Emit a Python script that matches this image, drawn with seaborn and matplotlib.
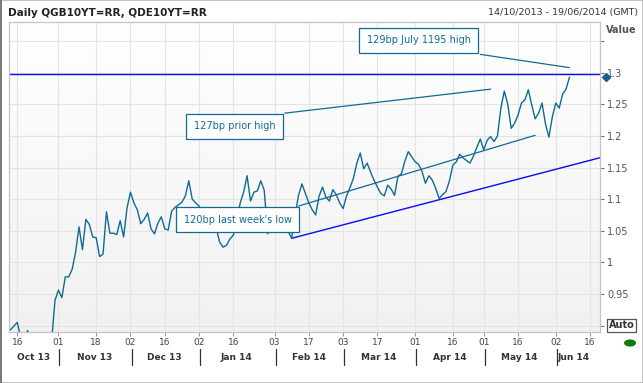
import numpy as np
import pandas as pd
import matplotlib
matplotlib.use("Agg")
import matplotlib.pyplot as plt
import matplotlib.transforms as mtransforms
from matplotlib.colors import LinearSegmentedColormap
from matplotlib.patches import Rectangle, Circle
from matplotlib.lines import Line2D
import seaborn as sns

# ---------------- data ----------------
holidays = ['2013-12-25', '2013-12-26', '2014-01-01', '2014-04-18', '2014-04-21', '2014-05-05']
yield_spread = [
    0.893, 0.899, 0.905, 0.880, 0.875, 0.892, 0.870, 0.865, 0.860, 0.865,
    0.860, 0.868, 0.875, 0.940, 0.956, 0.944, 0.977, 0.977, 0.989, 1.016,
    1.056, 1.020, 1.068, 1.060, 1.040, 1.039, 1.009, 1.013, 1.080, 1.046,
    1.046, 1.044, 1.066, 1.040, 1.086, 1.111, 1.094, 1.083, 1.061, 1.068,
    1.078, 1.053, 1.045, 1.062, 1.072, 1.053, 1.051, 1.081, 1.087, 1.091,
    1.095, 1.105, 1.129, 1.100, 1.094, 1.089, 1.080, 1.073, 1.067, 1.061,
    1.054, 1.032, 1.024, 1.027, 1.037, 1.043, 1.067, 1.094, 1.111, 1.137,
    1.097, 1.111, 1.113, 1.129, 1.114, 1.045, 1.059, 1.067, 1.064, 1.057,
    1.054, 1.049, 1.038, 1.075, 1.106, 1.124, 1.109, 1.094, 1.083, 1.075,
    1.105, 1.119, 1.103, 1.097, 1.115, 1.107, 1.094, 1.085, 1.105, 1.118,
    1.133, 1.157, 1.173, 1.148, 1.157, 1.143, 1.130, 1.119, 1.109, 1.105,
    1.122, 1.116, 1.106, 1.136, 1.140, 1.160, 1.175, 1.167, 1.159, 1.155,
    1.144, 1.125, 1.137, 1.130, 1.117, 1.101, 1.107, 1.112, 1.129, 1.154,
    1.159, 1.171, 1.165, 1.161, 1.157, 1.168, 1.182, 1.195, 1.178, 1.193,
    1.199, 1.191, 1.200, 1.244, 1.271, 1.250, 1.212, 1.220, 1.233, 1.252,
    1.257, 1.273, 1.249, 1.227, 1.236, 1.252, 1.219, 1.198, 1.230, 1.252,
    1.244, 1.266, 1.274, 1.293,
]
tick_dates = ['2013-10-16', '2013-11-01', '2013-11-18', '2013-12-02', '2013-12-16',
              '2014-01-02', '2014-01-16', '2014-02-03', '2014-02-17', '2014-03-03',
              '2014-03-17', '2014-04-01', '2014-04-16', '2014-05-01', '2014-05-16',
              '2014-06-02', '2014-06-16']
month_starts = ['2013-11-01', '2013-12-02', '2014-01-02', '2014-02-03', '2014-03-03',
                '2014-04-01', '2014-05-01', '2014-06-02']
month_labels = ['Oct 13', 'Nov 13', 'Dec 13', 'Jan 14', 'Feb 14', 'Mar 14', 'Apr 14', 'May 14', 'Jun 14']
y_ticks = [0.9, 0.95, 1.0, 1.05, 1.1, 1.15, 1.2, 1.25, 1.3, 1.35]
y_labels = ['', '0.95', '1', '1.05', '1.1', '1.15', '1.2', '1.25', '1.3', '']

resistance_level = 1.298
support_dates = ['2014-02-10', '2014-06-19']
support_values = [1.038, 1.1656]
note_high_dates = ['2014-04-30', '2014-06-06']
note_high_values = [1.329, 1.308]
note_prior_dates = ['2014-02-06', '2014-05-06']
note_prior_values = [1.236, 1.274]
note_low_dates = ['2014-02-12', '2014-05-23']
note_low_values = [1.089, 1.201]

# ---------------- helpers ----------------
days = pd.bdate_range('2013-10-14', '2014-06-19')
days = days[~days.isin(pd.to_datetime(holidays))]


def pos(d):
    return days.get_loc(pd.Timestamp(d))


df = pd.DataFrame({'pos': np.arange(len(yield_spread)), 'value': yield_spread})

TEAL = '#0f6b94'
BLUE = '#0a0af0'
XMIN, XMAX = -0.33, 171.9
YMIN, YMAX = 0.8902, 1.3807

sns.set_style('white')
plt.rcParams['font.family'] = ['DejaVu Sans']

fig = plt.figure(figsize=(6.43, 3.83), dpi=100, facecolor='white')
ax = fig.add_axes([9.3 / 643, 1 - 331.7 / 383, (600 - 9.3) / 643, (331.7 - 21.7) / 383])

# gradient background
grad = LinearSegmentedColormap.from_list('g', ['#ffffff', '#f1f1f1'])
ax.imshow(np.linspace(0, 1, 256).reshape(-1, 1), extent=[XMIN, XMAX, YMIN, YMAX],
          aspect='auto', cmap=grad, origin='upper', zorder=0)

sns.lineplot(data=df, x='pos', y='value', ax=ax, color=TEAL, linewidth=1.0, zorder=3)

# horizontal resistance and support trend line
ax.axhline(resistance_level, color=BLUE, lw=1.0, zorder=2.5)
ax.plot([pos(d) for d in support_dates], support_values, color=BLUE, lw=1.0, zorder=2.5)

# annotation connectors
for dts, vals in [(note_high_dates, note_high_values),
                  (note_prior_dates, note_prior_values),
                  (note_low_dates, note_low_values)]:
    ax.plot([pos(d) for d in dts], vals, color=TEAL, lw=0.9, zorder=2.6)

box_kw = dict(boxstyle='square,pad=0.78', fc='white', ec=TEAL, lw=0.9)
ax.text(119.0, 1.351, '129bp July 1195 high', ha='center', va='center', fontsize=7,
        color=TEAL, bbox=box_kw, zorder=6)
ax.text(65.3, 1.2149, '127bp prior high', ha='center', va='center', fontsize=7,
        color=TEAL, bbox=box_kw, zorder=6)
ax.text(66.3, 1.0677, "120bp last week's low", ha='center', va='center', fontsize=7,
        color=TEAL, bbox=box_kw, zorder=6)

# last-value diamond on the axis
bt = mtransforms.blended_transform_factory(ax.transAxes, ax.transData)
ax.plot([1.0102], [yield_spread[-1]], transform=bt, marker='D', ms=4.2,
        color='#1b5f8c', clip_on=False, zorder=7)

ax.set_xlim(XMIN, XMAX)
ax.set_ylim(YMIN, YMAX)

tpos = [pos(d) for d in tick_dates]
ax.set_xticks(tpos)
ax.set_xticklabels([pd.Timestamp(d).strftime('%d') for d in tick_dates], fontsize=6.5, color='#444444')
ax.set_yticks(y_ticks)
ax.set_yticklabels(y_labels, fontsize=7, color='#555555')
for lab in ax.get_yticklabels():
    if lab.get_text() == '1':
        lab.set_fontweight('bold')
ax.yaxis.tick_right()
ax.tick_params(axis='x', length=3, width=0.8, color='#999999', pad=1.5, direction='out', bottom=True)
ax.tick_params(axis='y', length=3, width=0.8, color='#777777', pad=2, direction='out', right=True, left=False)
ax.set_xlabel('')
ax.set_ylabel('')
ax.grid(True, color='#e4e4e4', lw=0.8)
ax.set_axisbelow(True)
for s in ax.spines.values():
    s.set_color('#c4c4c4')
    s.set_linewidth(0.9)

# month labels and separators
tf = mtransforms.blended_transform_factory(ax.transData, fig.transFigure)
bounds = [XMIN] + [pos(d) for d in month_starts] + [XMAX]
for i, lab in enumerate(month_labels):
    cx = (bounds[i] + bounds[i + 1]) / 2
    if i == len(month_labels) - 1:
        ax.text(bounds[i] + 0.5, 1 - 357 / 383, lab, transform=tf, ha='left', va='center',
                fontsize=6.5, fontweight='bold', color='#333333')
    else:
        ax.text(cx, 1 - 357 / 383, lab, transform=tf, ha='center', va='center',
                fontsize=6.5, fontweight='bold', color='#333333')
for d in month_starts:
    x = pos(d) + 0.3
    ax.add_line(Line2D([x, x], [1 - 349 / 383, 1 - 365 / 383], transform=tf,
                       color='#333333', lw=0.9, clip_on=False))

# header texts
fig.text(8 / 643, 1 - 12.5 / 383, 'Daily QGB10YT=RR, QDE10YT=RR', ha='left', va='center',
         fontsize=7.5, fontweight='bold', color='#222222')
fig.text(638 / 643, 1 - 12.5 / 383, '14/10/2013 - 19/06/2014 (GMT)', ha='right', va='center',
         fontsize=6.8, color='#333333')
fig.text(621 / 643, 1 - 30 / 383, 'Value', ha='center', va='center', fontsize=7,
         fontweight='bold', color='#555555')
fig.text(621.5 / 643, 1 - 325.5 / 383, 'Auto', ha='center', va='center', fontsize=7,
         fontweight='bold', color='#333333',
         bbox=dict(boxstyle='square,pad=0.12', fc='white', ec='#555555', lw=0.9))

# status dot
fig.patches.append(Circle((630 / 643, 1 - 343 / 383), 6 / 643, transform=fig.transFigure,
                          fc='#0a7d0a', ec='none'))
# window frame
fig.patches.append(Rectangle((0, 0), 1, 1, transform=fig.transFigure, fill=False,
                             ec='#b5b5b5', lw=1.2))
fig.patches.append(Rectangle((0, 0), 2.2 / 643, 1, transform=fig.transFigure,
                             fc='#7a7a7a', ec='none'))

fig.savefig('out.png', dpi=100, facecolor=fig.get_facecolor())
